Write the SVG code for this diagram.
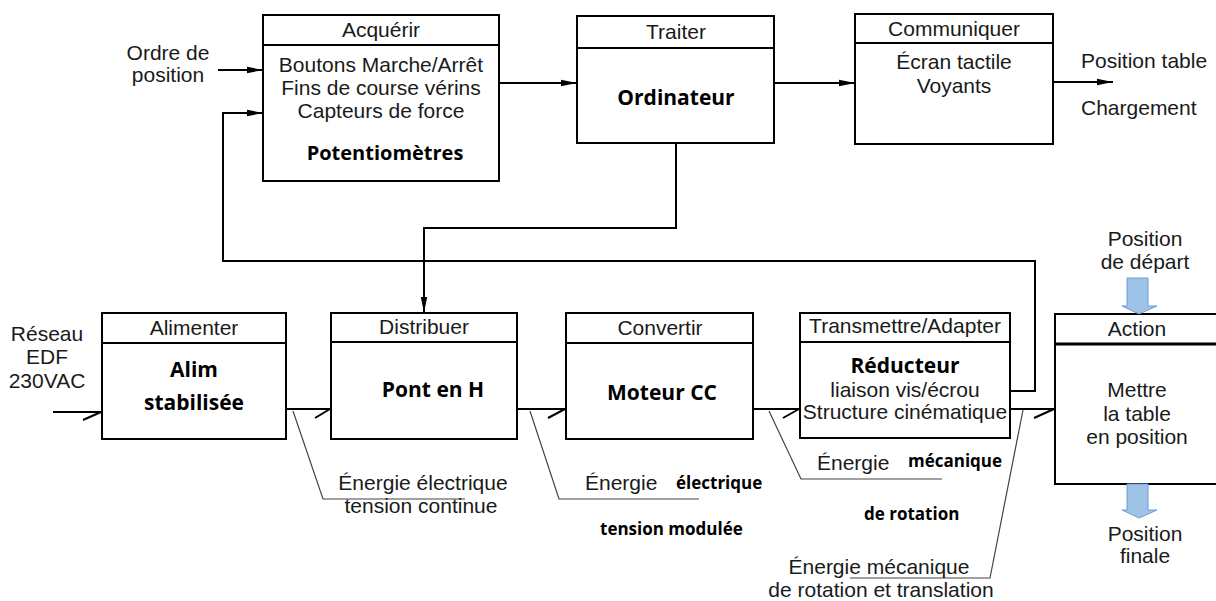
<svg xmlns="http://www.w3.org/2000/svg" width="1216" height="601" viewBox="0 0 1216 601">
<style>
.box{fill:#fff;stroke:#000;stroke-width:2}
.hd{stroke:#000;stroke-width:2}
.t{font-family:"Liberation Sans",Arial,sans-serif;font-size:21px;fill:#1a1a1a}
.m{text-anchor:middle}
.b{font-family:"Open Sans","Liberation Sans",sans-serif;font-weight:bold;font-size:21px;fill:#000;text-anchor:middle}
.bs{font-family:"Open Sans","Liberation Sans",sans-serif;font-weight:bold;font-size:17px;fill:#000}
.c{fill:none;stroke:#000;stroke-width:2}
.l{fill:none;stroke:#444;stroke-width:1.2}
.blue{fill:#9dc3e6;stroke:#6f9bd1;stroke-width:1}
</style>
<defs>
<marker id="ah" viewBox="0 0 16 8" refX="16" refY="4" markerWidth="16" markerHeight="8" markerUnits="userSpaceOnUse" orient="auto">
<path d="M0,0.8 L16,4 L0,7.2 Z" fill="#000"/>
</marker>
</defs>
<g id="connectors">
<line class="c" x1="218" y1="70" x2="263" y2="70" marker-end="url(#ah)"/>
<line class="c" x1="499" y1="83" x2="577" y2="83" marker-end="url(#ah)"/>
<line class="c" x1="774" y1="83" x2="855" y2="83" marker-end="url(#ah)"/>
<line class="c" x1="1053" y1="82" x2="1113" y2="82" marker-end="url(#ah)"/>
<polyline class="c" points="676,143 676,228 424,228 424,313" marker-end="url(#ah)"/>
<polyline class="c" points="1010,391 1035,391 1035,261 223,261 223,113 263,113" marker-end="url(#ah)"/>
<path class="c" d="M53,412 H102 M83,420 L101,412"/>
<path class="c" d="M286,409 H331 M315,418 L330,409"/>
<path class="c" d="M517,409 H566 M548,418 L565,409"/>
<path class="c" d="M753,409 H800 M783,418 L799,409"/>
<path class="c" d="M1010,409 H1055 M1034,418 L1054,409"/>
<polyline class="l" points="293,411 323,499 465,499"/>
<polyline class="l" points="530,411 559,499 699,499"/>
<polyline class="l" points="769,411 801,479 942,479"/>
<polyline class="l" points="1023,410 990,578 850,578"/>
</g>
<g id="ordre">
<text class="t m" x="168" y="60">Ordre de</text>
<text class="t m" x="168" y="82">position</text>
</g>
<g id="acquerir">
<rect class="box" x="263" y="15" width="236" height="166"/>
<line class="hd" x1="263" y1="45" x2="499" y2="45"/>
<text class="t m" x="381" y="37">Acquérir</text>
<text class="t m" x="381" y="72">Boutons Marche/Arrêt</text>
<text class="t m" x="381" y="95">Fins de course vérins</text>
<text class="t m" x="381" y="118">Capteurs de force</text>
<text class="b" x="385" y="160" style="font-size:20px">Potentiomètres</text>
</g>
<g id="traiter">
<rect class="box" x="577" y="16" width="197" height="127"/>
<line class="hd" x1="577" y1="48" x2="774" y2="48"/>
<text class="t m" x="676" y="39">Traiter</text>
<text class="b" x="676" y="105">Ordinateur</text>
</g>
<g id="communiquer">
<rect class="box" x="855" y="14" width="198" height="130"/>
<line class="hd" x1="855" y1="43" x2="1053" y2="43"/>
<text class="t m" x="954" y="36">Communiquer</text>
<text class="t m" x="954" y="69">Écran tactile</text>
<text class="t m" x="954" y="93">Voyants</text>
</g>
<g id="sorties">
<text class="t" x="1081" y="68">Position table</text>
<text class="t" x="1081" y="115">Chargement</text>
</g>
<g id="reseau">
<text class="t m" x="47" y="341">Réseau</text>
<text class="t m" x="47" y="364">EDF</text>
<text class="t m" x="47" y="388">230VAC</text>
</g>
<g id="alimenter">
<rect class="box" x="102" y="313" width="184" height="126"/>
<line class="hd" x1="102" y1="343" x2="286" y2="343"/>
<text class="t m" x="194" y="335">Alimenter</text>
<text class="b" x="194" y="377">Alim</text>
<text class="b" x="194" y="410">stabilisée</text>
</g>
<g id="distribuer">
<rect class="box" x="331" y="313" width="186" height="126"/>
<line class="hd" x1="331" y1="342" x2="517" y2="342"/>
<text class="t m" x="424" y="334">Distribuer</text>
<text class="b" x="433" y="397">Pont en H</text>
</g>
<g id="convertir">
<rect class="box" x="566" y="313" width="187" height="126"/>
<line class="hd" x1="566" y1="343" x2="753" y2="343"/>
<text class="t m" x="660" y="335">Convertir</text>
<text class="b" x="662" y="400">Moteur CC</text>
</g>
<g id="transmettre">
<rect class="box" x="800" y="313" width="210" height="125"/>
<line class="hd" x1="800" y1="342" x2="1010" y2="342"/>
<text class="t m" x="905" y="333">Transmettre/Adapter</text>
<text class="b" x="905" y="373">Réducteur</text>
<text class="t m" x="905" y="397">liaison vis/écrou</text>
<text class="t m" x="905" y="419">Structure cinématique</text>
</g>
<g id="action">
<rect class="box" x="1055" y="314" width="170" height="170"/>
<line x1="1055" y1="344" x2="1225" y2="344" stroke="#000" stroke-width="3"/>
<text class="t m" x="1137" y="336">Action</text>
<text class="t m" x="1137" y="397">Mettre</text>
<text class="t m" x="1137" y="421">la table</text>
<text class="t m" x="1137" y="444">en position</text>
</g>
<g id="position-depart">
<text class="t m" x="1145" y="246">Position</text>
<text class="t m" x="1145" y="269">de départ</text>
<path class="blue" d="M1127,278 H1148 V306 H1157 L1139,314 L1122,306 H1127 Z"/>
</g>
<g id="position-finale">
<path class="blue" d="M1127,484 H1148 V510 H1157 L1139,518 L1122,510 H1127 Z"/>
<text class="t m" x="1145" y="541">Position</text>
<text class="t m" x="1145" y="563">finale</text>
</g>
<g id="labels">
<text class="t m" x="423" y="490">Énergie électrique</text>
<text class="t m" x="421" y="513">tension continue</text>
<text class="t" x="585" y="490">Énergie</text>
<text class="bs" x="676" y="489">électrique</text>
<text class="bs" x="600" y="535">tension modulée</text>
<text class="t" x="817" y="470">Énergie</text>
<text class="bs" x="908" y="467">mécanique</text>
<text class="bs" x="864" y="520">de rotation</text>
<text class="t m" x="879" y="574">Énergie mécanique</text>
<text class="t m" x="881" y="597">de rotation et translation</text>
</g>
</svg>
